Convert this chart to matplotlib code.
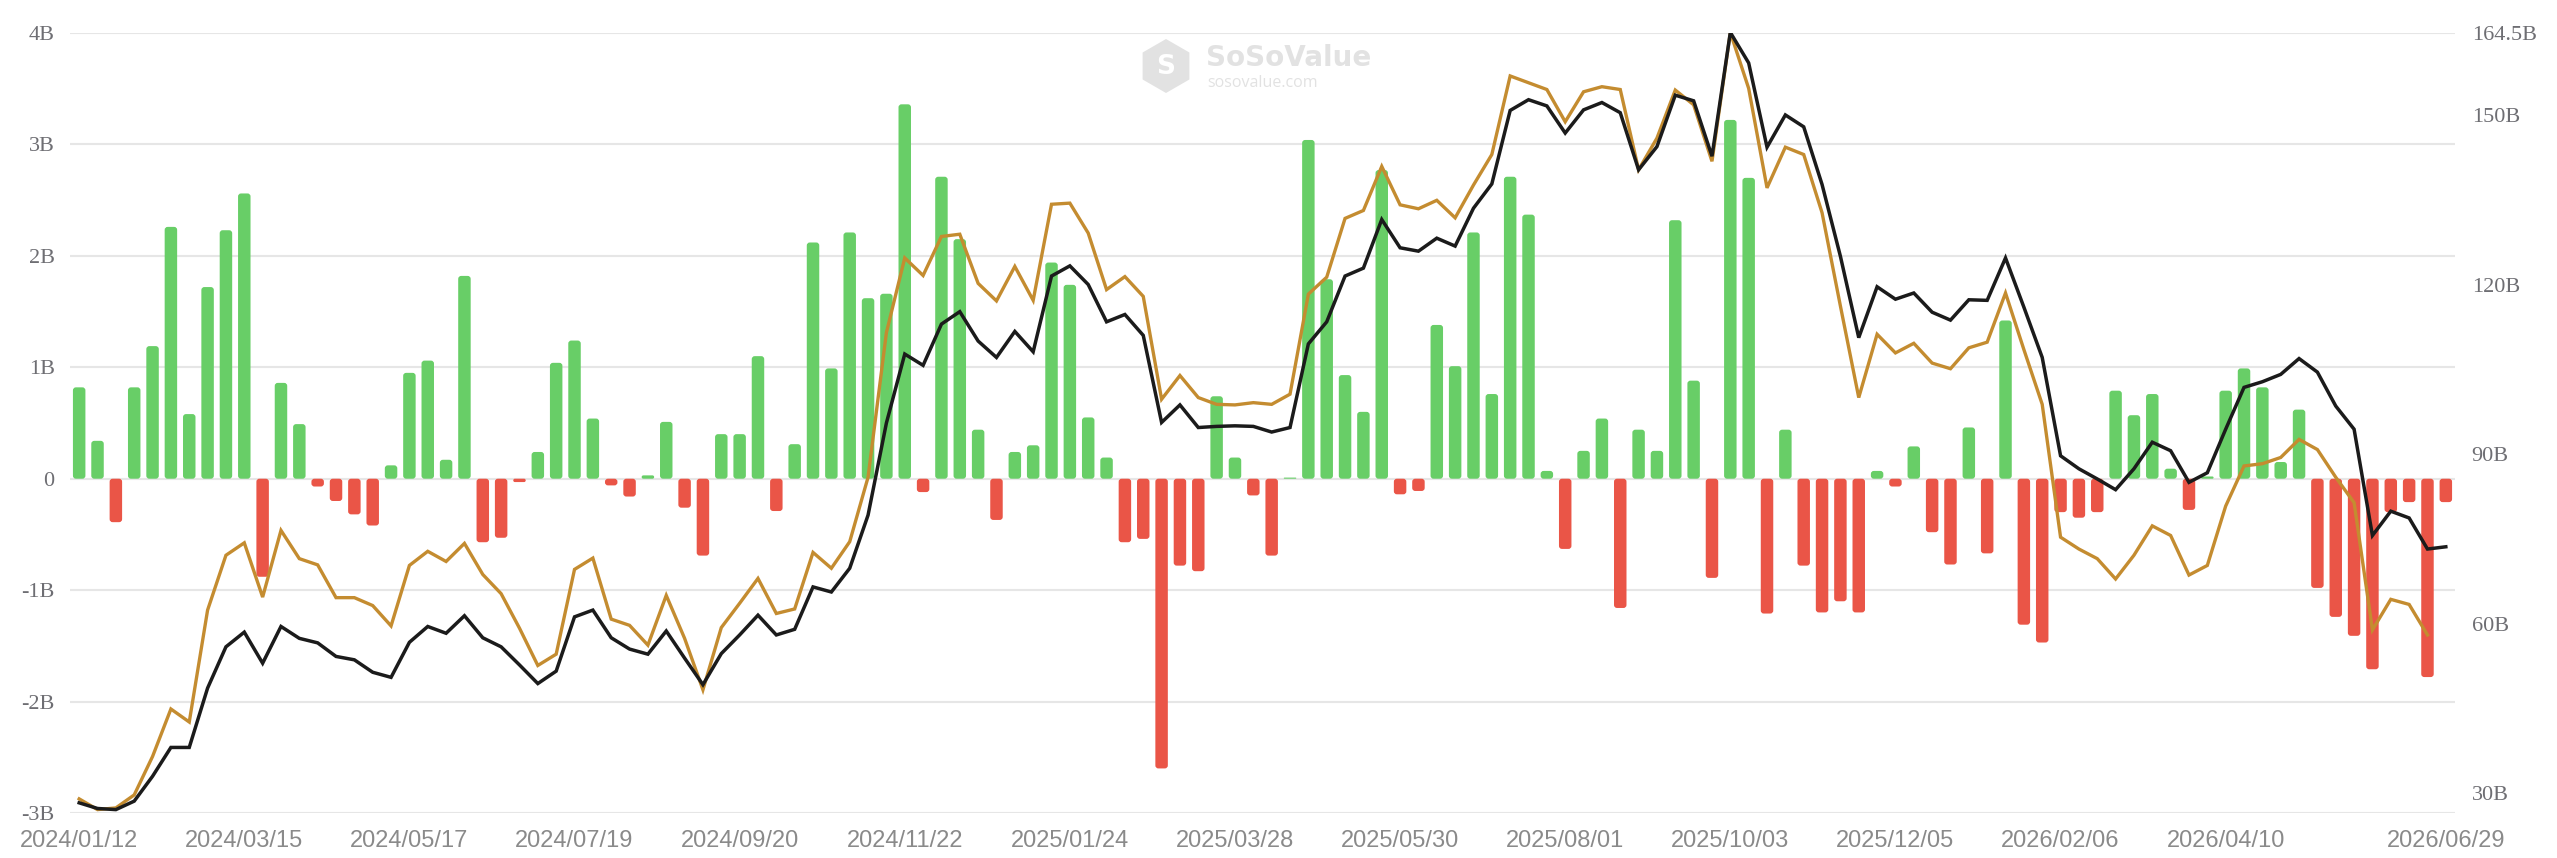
"""
Weekly ETF net flow (bars, left axis) with total net assets and
cumulative value lines (right axis).  Writes out.png.
"""

import numpy as np
import pandas as pd
import matplotlib

matplotlib.use("Agg")
import matplotlib.pyplot as plt
from matplotlib.patches import FancyBboxPatch, RegularPolygon
from matplotlib.transforms import IdentityTransform

# ── Data ──────────────────────────────────────────────────────────────────────
START_DATE = "2024-01-12"
LAST_LABEL = "2026/06/29"

# weekly net inflow, billions USD
net_flow = [
    0.82, 0.34, -0.39, 0.82, 1.19, 2.26, 0.58, 1.72, 2.23, 2.56,
    -0.88, 0.86, 0.49, -0.07, -0.20, -0.32, -0.42, 0.12, 0.95, 1.06,
    0.17, 1.82, -0.57, -0.53, -0.03, 0.24, 1.04, 1.24, 0.54, -0.06,
    -0.16, 0.03, 0.51, -0.26, -0.69, 0.40, 0.40, 1.10, -0.29, 0.31,
    2.12, 0.99, 2.21, 1.62, 1.66, 3.36, -0.12, 2.71, 2.15, 0.44,
    -0.37, 0.24, 0.30, 1.94, 1.74, 0.55, 0.19, -0.57, -0.54, -2.60,
    -0.78, -0.83, 0.74, 0.19, -0.15, -0.69, 0.01, 3.04, 1.79, 0.93,
    0.60, 2.77, -0.14, -0.11, 1.38, 1.01, 2.21, 0.76, 2.71, 2.37,
    0.07, -0.63, 0.25, 0.54, -1.16, 0.44, 0.25, 2.32, 0.88, -0.89,
    3.22, 2.70, -1.21, 0.44, -0.78, -1.20, -1.10, -1.20, 0.07, -0.07,
    0.29, -0.48, -0.77, 0.46, -0.67, 1.42, -1.31, -1.47, -0.30, -0.35,
    -0.30, 0.79, 0.57, 0.76, 0.09, -0.28, 0.02, 0.79, 0.99, 0.82,
    0.15, 0.62, -0.98, -1.24, -1.41, -1.71, -0.30, -0.21, -1.78, -0.21,
]

# total net assets, billions USD (black line)
net_assets = [
    28.3, 27.3, 27.1, 28.6, 33.0, 38.1, 38.1, 48.6, 55.9, 58.5,
    53.0, 59.5, 57.4, 56.6, 54.2, 53.6, 51.4, 50.5, 56.7, 59.5,
    58.3, 61.4, 57.5, 55.9, 52.7, 49.4, 51.6, 61.2, 62.4, 57.5,
    55.5, 54.6, 58.7, 53.9, 49.2, 54.7, 58.0, 61.5, 58.0, 59.0,
    66.5, 65.6, 69.8, 79.2, 95.5, 107.7, 105.7, 113.0, 115.2, 110.0,
    107.1, 111.7, 108.1, 121.5, 123.3, 120.0, 113.4, 114.7, 111.0, 95.6,
    98.7, 94.7, 94.9, 95.0, 94.9, 93.9, 94.7, 109.5, 113.4, 121.5,
    122.9, 131.5, 126.5, 125.9, 128.2, 126.8, 133.5, 137.8, 150.8, 152.7,
    151.6, 146.8, 150.9, 152.2, 150.4, 140.3, 144.4, 153.5, 152.5, 142.7,
    164.6, 159.2, 144.3, 150.0, 147.9, 137.7, 125.0, 110.6, 119.6, 117.4,
    118.5, 115.1, 113.7, 117.3, 117.2, 124.7, 116.0, 107.1, 89.7, 87.4,
    85.6, 83.7, 87.4, 92.1, 90.6, 85.0, 86.7, 94.4, 101.8, 102.8,
    104.1, 106.9, 104.5, 98.5, 94.4, 75.6, 79.9, 78.7, 73.2, 73.6,
]

# second value line, billions USD (gold line, one week shorter)
gold_line = [
    29.0, 27.1, 27.4, 29.7, 36.5, 44.9, 42.6, 62.4, 72.1, 74.3,
    64.7, 76.5, 71.5, 70.4, 64.6, 64.6, 63.2, 59.6, 70.3, 72.8,
    71.0, 74.2, 68.7, 65.3, 59.2, 52.6, 54.6, 69.6, 71.6, 60.8,
    59.7, 56.2, 65.0, 57.4, 48.3, 59.3, 63.6, 68.0, 61.8, 62.6,
    72.6, 69.8, 74.5, 85.9, 111.5, 124.7, 121.6, 128.5, 128.9, 120.2,
    117.1, 123.2, 117.2, 134.2, 134.4, 129.1, 119.1, 121.4, 117.9, 99.7,
    103.9, 100.0, 98.8, 98.7, 99.1, 98.8, 100.6, 118.3, 121.3, 131.7,
    133.1, 140.9, 134.1, 133.4, 134.9, 131.8, 137.6, 143.0, 156.9, 155.7,
    154.5, 148.8, 154.1, 155.0, 154.5, 140.3, 145.9, 154.4, 151.8, 141.8,
    164.6, 154.7, 137.1, 144.3, 143.0, 132.7, 116.2, 100.0, 111.2, 107.9,
    109.6, 106.1, 105.1, 108.8, 109.8, 118.5, 108.5, 98.8, 75.3, 73.2,
    71.5, 67.9, 72.1, 77.3, 75.6, 68.6, 70.3, 80.8, 87.9, 88.3,
    89.4, 92.6, 90.8, 85.9, 81.4, 58.9, 64.3, 63.4, 58.0, np.nan,
]

left_ticks = [-3, -2, -1, 0, 1, 2, 3, 4]
left_tick_labels = ["-3B", "-2B", "-1B", "0", "1B", "2B", "3B", "4B"]
right_ticks = [30, 60, 90, 120, 150, 164.5]
right_tick_labels = ["30B", "60B", "90B", "120B", "150B", "164.5B"]
LABEL_EVERY = 9  # weeks between x labels

# ── Style ─────────────────────────────────────────────────────────────────────
GREEN = "#68CE67"
RED = "#EA5547"
GOLD = "#C48C30"
BLACK = "#1B1B1B"
GRID = "#E6E6E6"
AXIS_TXT = "#6E6E73"
X_TXT = "#8A8A8A"
MARK = "#E2E2E2"

W_PX, H_PX, DPI = 2557, 858, 100


def draw_rounded_bars(ax, values, width=0.68, radius_px=3.0):
    """Bars with rounded corners, drawn as FancyBboxPatch in data coords."""
    bbox = ax.get_position()
    x0, x1 = ax.get_xlim()
    y0, y1 = ax.get_ylim()
    px_x = bbox.width * W_PX / (x1 - x0)
    px_y = bbox.height * H_PX / (y1 - y0)
    aspect = px_x / px_y
    r = radius_px / px_x
    for i, v in enumerate(values):
        h = abs(v)
        rs = min(r, width / 2, h / aspect / 2)
        patch = FancyBboxPatch(
            (i - width / 2, min(0, v)), width, h,
            boxstyle=f"round,pad=0,rounding_size={rs}",
            mutation_aspect=aspect,
            facecolor=GREEN if v >= 0 else RED,
            edgecolor="none", zorder=2,
        )
        ax.add_patch(patch)


def main() -> None:
    n = len(net_flow)
    x = np.arange(n)
    weeks = pd.date_range(START_DATE, periods=n, freq="7D").strftime("%Y/%m/%d").tolist()
    weeks[-1] = LAST_LABEL
    tick_idx = list(range(0, n - 10, LABEL_EVERY)) + [n - 1]

    fig = plt.figure(figsize=(W_PX / DPI, H_PX / DPI), dpi=DPI)
    ax = fig.add_axes([70 / W_PX, 1 - 813 / H_PX, (2455 - 70) / W_PX, 780 / H_PX])

    ax.set_xlim(-0.5, n - 0.5)
    ax.set_ylim(-3, 4)
    draw_rounded_bars(ax, net_flow)

    ax.set_yticks(left_ticks)
    ax.set_yticklabels(left_tick_labels, family="Liberation Serif", fontsize=16, color=AXIS_TXT)
    ax.yaxis.grid(True, color=GRID, linewidth=1.5)
    ax.set_axisbelow(True)
    ax.set_xticks(tick_idx)
    ax.set_xticklabels([weeks[i] for i in tick_idx], family="Liberation Sans",
                       fontsize=17, color=X_TXT)
    ax.tick_params(axis="both", length=0)
    ax.tick_params(axis="y", pad=11)
    ax.tick_params(axis="x", pad=12)
    for s in ax.spines.values():
        s.set_visible(False)

    # ── Right axis lines ─────────────────────────────────────────────────────
    ax2 = ax.twinx()
    ax2.set_ylim(26.5, 164.5)
    ax2.plot(x, gold_line, color=GOLD, linewidth=2.4, zorder=3, solid_joinstyle="miter")
    ax2.plot(x, net_assets, color=BLACK, linewidth=2.5, zorder=4, solid_joinstyle="miter")
    ax2.set_yticks(right_ticks)
    ax2.set_yticklabels(right_tick_labels, family="Liberation Serif", fontsize=16, color=AXIS_TXT)
    ax2.tick_params(axis="y", length=0, pad=12)
    for s in ax2.spines.values():
        s.set_visible(False)

    # ── Watermark (pixel coords, origin bottom-left) ─────────────────────────
    fig.patches.append(RegularPolygon(
        (1166, H_PX - 66), numVertices=6, radius=27, orientation=0,
        transform=IdentityTransform(), facecolor=MARK, edgecolor="none", zorder=1,
    ))
    fig.text(1166 / W_PX, 1 - 67 / H_PX, "S", fontsize=19, fontweight="bold",
             color="white", ha="center", va="center", zorder=2)
    fig.text(1206 / W_PX, 1 - 58 / H_PX, "SoSoValue", fontsize=20, fontweight="bold",
             color=MARK, ha="left", va="center", family="DejaVu Sans")
    fig.text(1207 / W_PX, 1 - 83 / H_PX, "sosovalue.com", fontsize=11.5,
             color=MARK, ha="left", va="center", family="Open Sans")

    fig.savefig("out.png", dpi=DPI)
    plt.close(fig)


if __name__ == "__main__":
    main()
